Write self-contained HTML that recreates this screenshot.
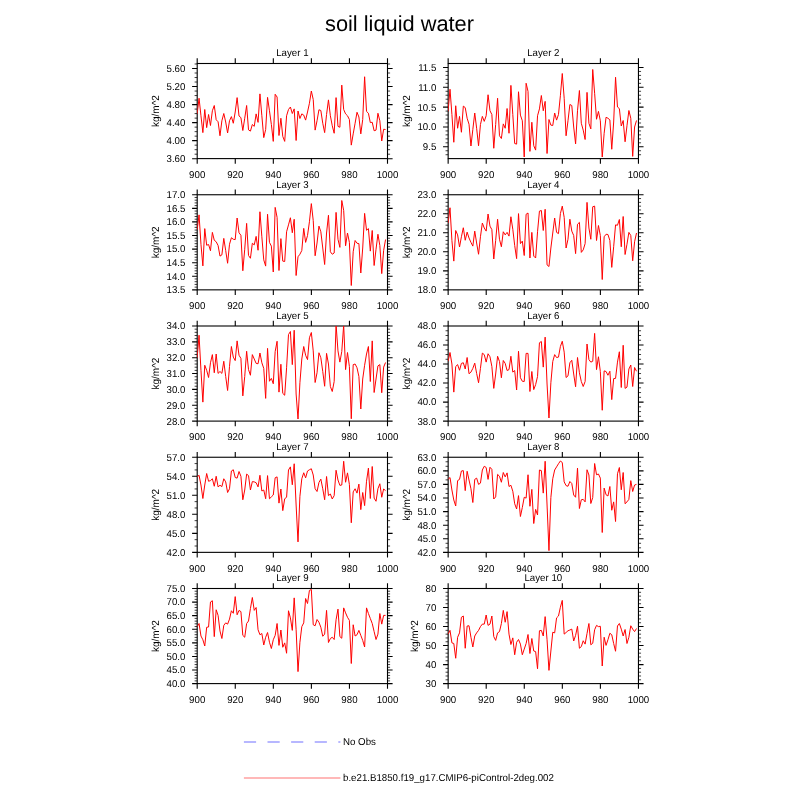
<!DOCTYPE html>
<html><head><meta charset="utf-8"><title>soil liquid water</title>
<style>
html,body{margin:0;padding:0;background:#fff}
body{width:800px;height:800px;overflow:hidden}
svg{display:block}
text{font-family:"Liberation Sans",sans-serif;fill:#000;text-rendering:geometricPrecision}
.t{font-size:9.3px}
.frame{fill:none;stroke:#000;stroke-width:1.1}
.tk{stroke:#000;stroke-width:1.1;fill:none}
.mtk{stroke:#000;stroke-width:.75;fill:none}
.ln{fill:none;stroke:#ff0000;stroke-width:1;stroke-linejoin:round;stroke-linecap:butt}
</style></head><body>
<svg width="800" height="800" viewBox="0 0 800 800">
<rect width="800" height="800" fill="#fff"/>
<text x="399.5" y="31.2" text-anchor="middle" style="font-size:21.8px">soil liquid water</text>

<g>
<text transform="translate(292.35 56.3) scale(0.97 1)" text-anchor="middle" style="font-size:10.0px">Layer 1</text>
<rect class="frame" x="197.2" y="63.5" width="190.3" height="95.1"/>
<path class="tk" d="M197.2 158.6v5.2M197.2 63.5v-5.2M235.26 158.6v5.2M235.26 63.5v-5.2M273.32 158.6v5.2M273.32 63.5v-5.2M311.38 158.6v5.2M311.38 63.5v-5.2M349.44 158.6v5.2M349.44 63.5v-5.2M387.5 158.6v5.2M387.5 63.5v-5.2M197.2 68.5h-5.1M387.5 68.5h5.1M197.2 86.54h-5.1M387.5 86.54h5.1M197.2 104.58h-5.1M387.5 104.58h5.1M197.2 122.62h-5.1M387.5 122.62h5.1M197.2 140.66h-5.1M387.5 140.66h5.1M197.2 158.7h-5.1M387.5 158.7h5.1"/>
<path class="mtk" d="M197.2 73.01h-2.6M387.5 73.01h2.6M197.2 77.52h-2.6M387.5 77.52h2.6M197.2 82.03h-2.6M387.5 82.03h2.6M197.2 91.05h-2.6M387.5 91.05h2.6M197.2 95.56h-2.6M387.5 95.56h2.6M197.2 100.07h-2.6M387.5 100.07h2.6M197.2 109.09h-2.6M387.5 109.09h2.6M197.2 113.6h-2.6M387.5 113.6h2.6M197.2 118.11h-2.6M387.5 118.11h2.6M197.2 127.13h-2.6M387.5 127.13h2.6M197.2 131.64h-2.6M387.5 131.64h2.6M197.2 136.15h-2.6M387.5 136.15h2.6M197.2 145.17h-2.6M387.5 145.17h2.6M197.2 149.68h-2.6M387.5 149.68h2.6M197.2 154.19h-2.6M387.5 154.19h2.6M197.2 63.99h-2.6M387.5 63.99h2.6"/>
<text transform="translate(197.2 177.9) scale(0.97 1)" text-anchor="middle" style="font-size:10.0px">900</text>
<text transform="translate(235.26 177.9) scale(0.97 1)" text-anchor="middle" style="font-size:10.0px">920</text>
<text transform="translate(273.32 177.9) scale(0.97 1)" text-anchor="middle" style="font-size:10.0px">940</text>
<text transform="translate(311.38 177.9) scale(0.97 1)" text-anchor="middle" style="font-size:10.0px">960</text>
<text transform="translate(349.44 177.9) scale(0.97 1)" text-anchor="middle" style="font-size:10.0px">980</text>
<text transform="translate(387.5 177.9) scale(0.97 1)" text-anchor="middle" style="font-size:10.0px">1000</text>
<text transform="translate(185.4 71.9) scale(0.97 1)" text-anchor="end" style="font-size:10.0px">5.60</text>
<text transform="translate(185.4 89.94) scale(0.97 1)" text-anchor="end" style="font-size:10.0px">5.20</text>
<text transform="translate(185.4 107.98) scale(0.97 1)" text-anchor="end" style="font-size:10.0px">4.80</text>
<text transform="translate(185.4 126.02) scale(0.97 1)" text-anchor="end" style="font-size:10.0px">4.40</text>
<text transform="translate(185.4 144.06) scale(0.97 1)" text-anchor="end" style="font-size:10.0px">4.00</text>
<text transform="translate(185.4 162.1) scale(0.97 1)" text-anchor="end" style="font-size:10.0px">3.60</text>
<text transform="translate(158.6 111.05) rotate(-90) scale(0.97 1)" text-anchor="middle" style="font-size:10.3px">kg/m^2</text>
<clipPath id="c0"><rect x="197.2" y="63.5" width="190.3" height="95.1"/></clipPath>
<path class="ln" clip-path="url(#c0)" d="M197.15 113.88L199.05 98.25L200.96 115.75L202.86 132.62L204.76 109.5L206.66 127.62L208.57 114.5L210.47 125.5L212.37 110.75L214.28 105.5L216.18 119.75L218.08 121.75L219.99 135.75L221.89 120.75L223.79 113.5L225.69 122L227.6 133L229.5 120.75L231.4 116.62L233.31 123.25L235.21 112L237.11 97.62L239.02 116L240.92 117.62L242.82 130.5L244.72 118.25L246.63 105.5L248.53 129.88L250.43 131.12L252.34 124.5L254.24 126.38L256.14 113.88L258.05 122.38L259.95 93.88L261.85 115.75L263.75 137.62L265.66 129.5L267.56 97.38L269.46 110.75L271.37 124.5L273.27 141.38L275.17 94.25L277.08 97L278.98 135.5L280.88 118.25L282.78 136.38L284.69 141.38L286.59 115.75L288.49 109.5L290.4 107L292.3 113.5L294.2 108.88L296.11 140.5L298.01 111L299.91 118.5L301.81 113.88L303.72 115.12L305.62 120.12L307.52 112L309.43 103.25L311.33 91L313.23 99.5L315.14 130.12L317.04 120.75L318.94 109.75L320.84 110.5L322.75 123.25L324.65 132.62L326.55 114.5L328.46 99.88L330.36 115.75L332.26 125.75L334.17 133.25L336.07 97.62L337.97 126.38L339.88 127.25L341.78 85.12L343.68 109.5L345.58 113.88L347.49 115.75L349.39 119.5L351.29 145.12L353.2 133.88L355.1 123.25L357 112.25L358.9 117L360.81 133.88L362.71 119.5L364.61 76.75L366.52 111.38L368.42 113.25L370.32 122.62L372.23 122.25L374.13 130.75L376.03 130.12L377.93 113.25L379.84 120.75L381.74 141L383.64 129.25L385.55 129.5"/>
</g>
<g>
<text transform="translate(543.3 56.3) scale(0.97 1)" text-anchor="middle" style="font-size:10.0px">Layer 2</text>
<rect class="frame" x="448.15" y="63.5" width="190.3" height="95.1"/>
<path class="tk" d="M448.15 158.6v5.2M448.15 63.5v-5.2M486.21 158.6v5.2M486.21 63.5v-5.2M524.27 158.6v5.2M524.27 63.5v-5.2M562.33 158.6v5.2M562.33 63.5v-5.2M600.39 158.6v5.2M600.39 63.5v-5.2M638.45 158.6v5.2M638.45 63.5v-5.2M448.15 67.47h-5.1M638.45 67.47h5.1M448.15 87.3h-5.1M638.45 87.3h5.1M448.15 107.13h-5.1M638.45 107.13h5.1M448.15 126.96h-5.1M638.45 126.96h5.1M448.15 146.79h-5.1M638.45 146.79h5.1"/>
<path class="mtk" d="M448.15 71.44h-2.6M638.45 71.44h2.6M448.15 75.4h-2.6M638.45 75.4h2.6M448.15 79.37h-2.6M638.45 79.37h2.6M448.15 83.33h-2.6M638.45 83.33h2.6M448.15 91.27h-2.6M638.45 91.27h2.6M448.15 95.23h-2.6M638.45 95.23h2.6M448.15 99.2h-2.6M638.45 99.2h2.6M448.15 103.16h-2.6M638.45 103.16h2.6M448.15 111.1h-2.6M638.45 111.1h2.6M448.15 115.06h-2.6M638.45 115.06h2.6M448.15 119.03h-2.6M638.45 119.03h2.6M448.15 122.99h-2.6M638.45 122.99h2.6M448.15 130.93h-2.6M638.45 130.93h2.6M448.15 134.89h-2.6M638.45 134.89h2.6M448.15 138.86h-2.6M638.45 138.86h2.6M448.15 142.82h-2.6M638.45 142.82h2.6M448.15 150.76h-2.6M638.45 150.76h2.6M448.15 154.72h-2.6M638.45 154.72h2.6"/>
<text transform="translate(448.15 177.9) scale(0.97 1)" text-anchor="middle" style="font-size:10.0px">900</text>
<text transform="translate(486.21 177.9) scale(0.97 1)" text-anchor="middle" style="font-size:10.0px">920</text>
<text transform="translate(524.27 177.9) scale(0.97 1)" text-anchor="middle" style="font-size:10.0px">940</text>
<text transform="translate(562.33 177.9) scale(0.97 1)" text-anchor="middle" style="font-size:10.0px">960</text>
<text transform="translate(600.39 177.9) scale(0.97 1)" text-anchor="middle" style="font-size:10.0px">980</text>
<text transform="translate(638.45 177.9) scale(0.97 1)" text-anchor="middle" style="font-size:10.0px">1000</text>
<text transform="translate(436.35 70.87) scale(0.97 1)" text-anchor="end" style="font-size:10.0px">11.5</text>
<text transform="translate(436.35 90.7) scale(0.97 1)" text-anchor="end" style="font-size:10.0px">11.0</text>
<text transform="translate(436.35 110.53) scale(0.97 1)" text-anchor="end" style="font-size:10.0px">10.5</text>
<text transform="translate(436.35 130.36) scale(0.97 1)" text-anchor="end" style="font-size:10.0px">10.0</text>
<text transform="translate(436.35 150.19) scale(0.97 1)" text-anchor="end" style="font-size:10.0px">9.5</text>
<text transform="translate(409.55 111.05) rotate(-90) scale(0.97 1)" text-anchor="middle" style="font-size:10.3px">kg/m^2</text>
<clipPath id="c1"><rect x="448.15" y="63.5" width="190.3" height="95.1"/></clipPath>
<path class="ln" clip-path="url(#c1)" d="M448.1 111.38L450 89.25L451.91 114.5L453.81 142.25L455.71 105.75L457.61 128.25L459.52 116.38L461.42 132.25L463.32 106.12L465.23 107.62L467.13 118.25L469.03 124.25L470.94 146L472.84 129.5L474.74 113L476.64 128.25L478.55 145.75L480.45 124.5L482.35 116.38L484.26 121.38L486.16 115.75L488.06 94.75L489.97 110.75L491.87 114.5L493.77 148.25L495.67 124.5L497.58 98.25L499.48 135.75L501.38 138.5L503.29 123.88L505.19 128.25L507.09 108.5L509 133.25L510.9 85.38L512.8 114.5L514.7 143.5L516.61 144.12L518.51 91.75L520.41 115.12L522.32 120.75L524.22 157L526.12 83.25L528.03 91.38L529.93 151.38L531.83 122.25L533.74 145.75L535.64 150.12L537.54 115.75L539.44 108.88L541.35 95.5L543.25 110.75L545.15 101.38L547.06 153.5L548.96 119.5L550.86 125.12L552.76 125.5L554.67 113L556.57 120.12L558.47 114.5L560.38 95.75L562.28 73.5L564.18 98.25L566.09 135.75L567.99 120.75L569.89 104.5L571.79 105.5L573.7 127L575.6 143.88L577.5 110.75L579.41 90.5L581.31 123.25L583.21 130.12L585.12 139.5L587.02 92.38L588.92 123.25L590.82 128.88L592.73 69.5L594.63 93.25L596.53 119.25L598.44 111.38L600.34 120.75L602.24 157L604.15 133.25L606.05 117.25L607.95 118.25L609.86 119.88L611.76 149.25L613.66 122L615.56 77.25L617.47 107L619.37 108.62L621.27 126L623.18 120.5L625.08 141.75L626.98 125.75L628.88 110.5L630.79 118.25L632.69 156.38L634.59 127L636.5 120.5"/>
</g>
<g>
<text transform="translate(292.35 187.55) scale(0.97 1)" text-anchor="middle" style="font-size:10.0px">Layer 3</text>
<rect class="frame" x="197.2" y="194.75" width="190.3" height="95.1"/>
<path class="tk" d="M197.2 289.85v5.2M197.2 194.75v-5.2M235.26 289.85v5.2M235.26 194.75v-5.2M273.32 289.85v5.2M273.32 194.75v-5.2M311.38 289.85v5.2M311.38 194.75v-5.2M349.44 289.85v5.2M349.44 194.75v-5.2M387.5 289.85v5.2M387.5 194.75v-5.2M197.2 194.75h-5.1M387.5 194.75h5.1M197.2 208.34h-5.1M387.5 208.34h5.1M197.2 221.92h-5.1M387.5 221.92h5.1M197.2 235.51h-5.1M387.5 235.51h5.1M197.2 249.09h-5.1M387.5 249.09h5.1M197.2 262.68h-5.1M387.5 262.68h5.1M197.2 276.26h-5.1M387.5 276.26h5.1M197.2 289.85h-5.1M387.5 289.85h5.1"/>
<path class="mtk" d="M197.2 197.47h-2.6M387.5 197.47h2.6M197.2 200.18h-2.6M387.5 200.18h2.6M197.2 202.9h-2.6M387.5 202.9h2.6M197.2 205.62h-2.6M387.5 205.62h2.6M197.2 211.05h-2.6M387.5 211.05h2.6M197.2 213.77h-2.6M387.5 213.77h2.6M197.2 216.49h-2.6M387.5 216.49h2.6M197.2 219.2h-2.6M387.5 219.2h2.6M197.2 224.64h-2.6M387.5 224.64h2.6M197.2 227.36h-2.6M387.5 227.36h2.6M197.2 230.07h-2.6M387.5 230.07h2.6M197.2 232.79h-2.6M387.5 232.79h2.6M197.2 238.22h-2.6M387.5 238.22h2.6M197.2 240.94h-2.6M387.5 240.94h2.6M197.2 243.66h-2.6M387.5 243.66h2.6M197.2 246.38h-2.6M387.5 246.38h2.6M197.2 251.81h-2.6M387.5 251.81h2.6M197.2 254.53h-2.6M387.5 254.53h2.6M197.2 257.24h-2.6M387.5 257.24h2.6M197.2 259.96h-2.6M387.5 259.96h2.6M197.2 265.4h-2.6M387.5 265.4h2.6M197.2 268.11h-2.6M387.5 268.11h2.6M197.2 270.83h-2.6M387.5 270.83h2.6M197.2 273.55h-2.6M387.5 273.55h2.6M197.2 278.98h-2.6M387.5 278.98h2.6M197.2 281.7h-2.6M387.5 281.7h2.6M197.2 284.42h-2.6M387.5 284.42h2.6M197.2 287.13h-2.6M387.5 287.13h2.6"/>
<text transform="translate(197.2 309.15) scale(0.97 1)" text-anchor="middle" style="font-size:10.0px">900</text>
<text transform="translate(235.26 309.15) scale(0.97 1)" text-anchor="middle" style="font-size:10.0px">920</text>
<text transform="translate(273.32 309.15) scale(0.97 1)" text-anchor="middle" style="font-size:10.0px">940</text>
<text transform="translate(311.38 309.15) scale(0.97 1)" text-anchor="middle" style="font-size:10.0px">960</text>
<text transform="translate(349.44 309.15) scale(0.97 1)" text-anchor="middle" style="font-size:10.0px">980</text>
<text transform="translate(387.5 309.15) scale(0.97 1)" text-anchor="middle" style="font-size:10.0px">1000</text>
<text transform="translate(185.4 198.15) scale(0.97 1)" text-anchor="end" style="font-size:10.0px">17.0</text>
<text transform="translate(185.4 211.74) scale(0.97 1)" text-anchor="end" style="font-size:10.0px">16.5</text>
<text transform="translate(185.4 225.32) scale(0.97 1)" text-anchor="end" style="font-size:10.0px">16.0</text>
<text transform="translate(185.4 238.91) scale(0.97 1)" text-anchor="end" style="font-size:10.0px">15.5</text>
<text transform="translate(185.4 252.49) scale(0.97 1)" text-anchor="end" style="font-size:10.0px">15.0</text>
<text transform="translate(185.4 266.08) scale(0.97 1)" text-anchor="end" style="font-size:10.0px">14.5</text>
<text transform="translate(185.4 279.66) scale(0.97 1)" text-anchor="end" style="font-size:10.0px">14.0</text>
<text transform="translate(185.4 293.25) scale(0.97 1)" text-anchor="end" style="font-size:10.0px">13.5</text>
<text transform="translate(158.6 242.3) rotate(-90) scale(0.97 1)" text-anchor="middle" style="font-size:10.3px">kg/m^2</text>
<clipPath id="c2"><rect x="197.2" y="194.75" width="190.3" height="95.1"/></clipPath>
<path class="ln" clip-path="url(#c2)" d="M197.15 229.88L199.05 214.88L200.96 244.25L202.86 265.88L204.76 228.62L206.66 245.25L208.57 244.5L210.47 250.75L212.37 232.38L214.28 240.25L216.18 241.75L218.08 245.5L219.99 256.12L221.89 254.88L223.79 238.38L225.69 250.5L227.6 263.25L229.5 244.25L231.4 237.75L233.31 239.25L235.21 239.62L237.11 218L239.02 232.75L240.92 235.25L242.82 270.75L244.72 249.25L246.63 223.38L248.53 255.5L250.43 258.25L252.34 243.25L254.24 244.88L256.14 236.38L258.05 250.25L259.95 211.75L261.85 236.75L263.75 259.88L265.66 266.12L267.56 214.25L269.46 242.38L271.37 246.12L273.27 272L275.17 207.38L277.08 217.38L278.98 270.5L280.88 238.62L282.78 261.12L284.69 261.5L286.59 231.75L288.49 224.88L290.4 217.75L292.3 232.75L294.2 219.25L296.11 275.5L298.01 256.75L299.91 254.25L301.81 250.5L303.72 228.38L305.62 242.38L307.52 235.5L309.43 221.75L311.33 203.62L313.23 220.5L315.14 255.75L317.04 243L318.94 226.12L320.84 231.75L322.75 248L324.65 264.5L326.55 233L328.46 215.25L330.36 251.75L332.26 254.25L334.17 253L336.07 212.38L337.97 239.25L339.88 247.38L341.78 200.5L343.68 210.5L345.58 245.75L347.49 233L349.39 242.38L351.29 285.5L353.2 251.75L355.1 240.5L357 243.25L358.9 243.62L360.81 273L362.71 248L364.61 213.38L366.52 230.25L368.42 228.62L370.32 251.12L372.23 230.5L374.13 265.5L376.03 249.25L377.93 234.25L379.84 245.5L381.74 273.62L383.64 250.5L385.55 239.5"/>
</g>
<g>
<text transform="translate(543.3 187.55) scale(0.97 1)" text-anchor="middle" style="font-size:10.0px">Layer 4</text>
<rect class="frame" x="448.15" y="194.75" width="190.3" height="95.1"/>
<path class="tk" d="M448.15 289.85v5.2M448.15 194.75v-5.2M486.21 289.85v5.2M486.21 194.75v-5.2M524.27 289.85v5.2M524.27 194.75v-5.2M562.33 289.85v5.2M562.33 194.75v-5.2M600.39 289.85v5.2M600.39 194.75v-5.2M638.45 289.85v5.2M638.45 194.75v-5.2M448.15 194.75h-5.1M638.45 194.75h5.1M448.15 213.77h-5.1M638.45 213.77h5.1M448.15 232.79h-5.1M638.45 232.79h5.1M448.15 251.81h-5.1M638.45 251.81h5.1M448.15 270.83h-5.1M638.45 270.83h5.1M448.15 289.85h-5.1M638.45 289.85h5.1"/>
<path class="mtk" d="M448.15 198.55h-2.6M638.45 198.55h2.6M448.15 202.36h-2.6M638.45 202.36h2.6M448.15 206.16h-2.6M638.45 206.16h2.6M448.15 209.97h-2.6M638.45 209.97h2.6M448.15 217.57h-2.6M638.45 217.57h2.6M448.15 221.38h-2.6M638.45 221.38h2.6M448.15 225.18h-2.6M638.45 225.18h2.6M448.15 228.99h-2.6M638.45 228.99h2.6M448.15 236.59h-2.6M638.45 236.59h2.6M448.15 240.4h-2.6M638.45 240.4h2.6M448.15 244.2h-2.6M638.45 244.2h2.6M448.15 248.01h-2.6M638.45 248.01h2.6M448.15 255.61h-2.6M638.45 255.61h2.6M448.15 259.42h-2.6M638.45 259.42h2.6M448.15 263.22h-2.6M638.45 263.22h2.6M448.15 267.03h-2.6M638.45 267.03h2.6M448.15 274.63h-2.6M638.45 274.63h2.6M448.15 278.44h-2.6M638.45 278.44h2.6M448.15 282.24h-2.6M638.45 282.24h2.6M448.15 286.05h-2.6M638.45 286.05h2.6"/>
<text transform="translate(448.15 309.15) scale(0.97 1)" text-anchor="middle" style="font-size:10.0px">900</text>
<text transform="translate(486.21 309.15) scale(0.97 1)" text-anchor="middle" style="font-size:10.0px">920</text>
<text transform="translate(524.27 309.15) scale(0.97 1)" text-anchor="middle" style="font-size:10.0px">940</text>
<text transform="translate(562.33 309.15) scale(0.97 1)" text-anchor="middle" style="font-size:10.0px">960</text>
<text transform="translate(600.39 309.15) scale(0.97 1)" text-anchor="middle" style="font-size:10.0px">980</text>
<text transform="translate(638.45 309.15) scale(0.97 1)" text-anchor="middle" style="font-size:10.0px">1000</text>
<text transform="translate(436.35 198.15) scale(0.97 1)" text-anchor="end" style="font-size:10.0px">23.0</text>
<text transform="translate(436.35 217.17) scale(0.97 1)" text-anchor="end" style="font-size:10.0px">22.0</text>
<text transform="translate(436.35 236.19) scale(0.97 1)" text-anchor="end" style="font-size:10.0px">21.0</text>
<text transform="translate(436.35 255.21) scale(0.97 1)" text-anchor="end" style="font-size:10.0px">20.0</text>
<text transform="translate(436.35 274.23) scale(0.97 1)" text-anchor="end" style="font-size:10.0px">19.0</text>
<text transform="translate(436.35 293.25) scale(0.97 1)" text-anchor="end" style="font-size:10.0px">18.0</text>
<text transform="translate(409.55 242.3) rotate(-90) scale(0.97 1)" text-anchor="middle" style="font-size:10.3px">kg/m^2</text>
<clipPath id="c3"><rect x="448.15" y="194.75" width="190.3" height="95.1"/></clipPath>
<path class="ln" clip-path="url(#c3)" d="M448.1 223L450 207.75L451.91 240.5L453.81 261.12L455.71 230.5L457.61 234.88L459.52 247L461.42 236.75L463.32 227.75L465.23 240.25L467.13 232.12L469.03 238L470.94 242.38L472.84 246.12L474.74 231.12L476.64 243L478.55 254.25L480.45 236.75L482.35 223L484.26 228L486.16 231.12L488.06 214L489.97 226.12L491.87 229.62L493.77 259L495.67 240.5L497.58 219.25L499.48 239.25L501.38 246.75L503.29 231.75L505.19 234.88L507.09 232.38L509 236.12L510.9 216.75L512.8 229.25L514.7 245.5L516.61 258.62L518.51 213.62L520.41 243.62L522.32 241.12L524.22 255.5L526.12 214.25L528.03 213L529.93 258L531.83 232.38L533.74 256.12L535.64 258L537.54 231.75L539.44 211.12L541.35 210.5L543.25 230.5L545.15 209.25L547.06 264.88L548.96 266.5L550.86 248L552.76 233L554.67 218L556.57 232.38L558.47 233.62L560.38 213.62L562.28 206.12L564.18 217.38L566.09 248L567.99 239.25L569.89 219.25L571.79 231.12L573.7 235.5L575.6 253.62L577.5 224.25L579.41 222.38L581.31 252.38L583.21 249.88L585.12 243.62L587.02 202.38L588.92 228L590.82 239.25L592.73 206.75L594.63 206.12L596.53 240.5L598.44 225.5L600.34 235.5L602.24 279.5L604.15 236.75L606.05 234.25L607.95 234.5L609.86 240.5L611.76 267.38L613.66 246.75L615.56 224.88L617.47 225.25L619.37 219.5L621.27 246.75L623.18 216.5L625.08 254.5L626.98 244.25L628.88 232.38L630.79 235.5L632.69 260.75L634.59 241.75L636.5 233"/>
</g>
<g>
<text transform="translate(292.35 318.8) scale(0.97 1)" text-anchor="middle" style="font-size:10.0px">Layer 5</text>
<rect class="frame" x="197.2" y="326" width="190.3" height="95.1"/>
<path class="tk" d="M197.2 421.1v5.2M197.2 326v-5.2M235.26 421.1v5.2M235.26 326v-5.2M273.32 421.1v5.2M273.32 326v-5.2M311.38 421.1v5.2M311.38 326v-5.2M349.44 421.1v5.2M349.44 326v-5.2M387.5 421.1v5.2M387.5 326v-5.2M197.2 326h-5.1M387.5 326h5.1M197.2 341.85h-5.1M387.5 341.85h5.1M197.2 357.7h-5.1M387.5 357.7h5.1M197.2 373.55h-5.1M387.5 373.55h5.1M197.2 389.4h-5.1M387.5 389.4h5.1M197.2 405.25h-5.1M387.5 405.25h5.1M197.2 421.1h-5.1M387.5 421.1h5.1"/>
<path class="mtk" d="M197.2 329.17h-2.6M387.5 329.17h2.6M197.2 332.34h-2.6M387.5 332.34h2.6M197.2 335.51h-2.6M387.5 335.51h2.6M197.2 338.68h-2.6M387.5 338.68h2.6M197.2 345.02h-2.6M387.5 345.02h2.6M197.2 348.19h-2.6M387.5 348.19h2.6M197.2 351.36h-2.6M387.5 351.36h2.6M197.2 354.53h-2.6M387.5 354.53h2.6M197.2 360.87h-2.6M387.5 360.87h2.6M197.2 364.04h-2.6M387.5 364.04h2.6M197.2 367.21h-2.6M387.5 367.21h2.6M197.2 370.38h-2.6M387.5 370.38h2.6M197.2 376.72h-2.6M387.5 376.72h2.6M197.2 379.89h-2.6M387.5 379.89h2.6M197.2 383.06h-2.6M387.5 383.06h2.6M197.2 386.23h-2.6M387.5 386.23h2.6M197.2 392.57h-2.6M387.5 392.57h2.6M197.2 395.74h-2.6M387.5 395.74h2.6M197.2 398.91h-2.6M387.5 398.91h2.6M197.2 402.08h-2.6M387.5 402.08h2.6M197.2 408.42h-2.6M387.5 408.42h2.6M197.2 411.59h-2.6M387.5 411.59h2.6M197.2 414.76h-2.6M387.5 414.76h2.6M197.2 417.93h-2.6M387.5 417.93h2.6"/>
<text transform="translate(197.2 440.4) scale(0.97 1)" text-anchor="middle" style="font-size:10.0px">900</text>
<text transform="translate(235.26 440.4) scale(0.97 1)" text-anchor="middle" style="font-size:10.0px">920</text>
<text transform="translate(273.32 440.4) scale(0.97 1)" text-anchor="middle" style="font-size:10.0px">940</text>
<text transform="translate(311.38 440.4) scale(0.97 1)" text-anchor="middle" style="font-size:10.0px">960</text>
<text transform="translate(349.44 440.4) scale(0.97 1)" text-anchor="middle" style="font-size:10.0px">980</text>
<text transform="translate(387.5 440.4) scale(0.97 1)" text-anchor="middle" style="font-size:10.0px">1000</text>
<text transform="translate(185.4 329.4) scale(0.97 1)" text-anchor="end" style="font-size:10.0px">34.0</text>
<text transform="translate(185.4 345.25) scale(0.97 1)" text-anchor="end" style="font-size:10.0px">33.0</text>
<text transform="translate(185.4 361.1) scale(0.97 1)" text-anchor="end" style="font-size:10.0px">32.0</text>
<text transform="translate(185.4 376.95) scale(0.97 1)" text-anchor="end" style="font-size:10.0px">31.0</text>
<text transform="translate(185.4 392.8) scale(0.97 1)" text-anchor="end" style="font-size:10.0px">30.0</text>
<text transform="translate(185.4 408.65) scale(0.97 1)" text-anchor="end" style="font-size:10.0px">29.0</text>
<text transform="translate(185.4 424.5) scale(0.97 1)" text-anchor="end" style="font-size:10.0px">28.0</text>
<text transform="translate(158.6 373.55) rotate(-90) scale(0.97 1)" text-anchor="middle" style="font-size:10.3px">kg/m^2</text>
<clipPath id="c4"><rect x="197.2" y="326" width="190.3" height="95.1"/></clipPath>
<path class="ln" clip-path="url(#c4)" d="M197.15 357.75L199.05 335.25L200.96 370.25L202.86 402.12L204.76 365.25L206.66 370.25L208.57 377.5L210.47 362.75L212.37 354.62L214.28 372.75L216.18 354L218.08 373.38L219.99 371.5L221.89 373.38L223.79 361.25L225.69 376.5L227.6 390.5L229.5 366.5L231.4 346.5L233.31 357.12L235.21 360.62L237.11 340.88L239.02 355.25L240.92 358.38L242.82 395.88L244.72 376.5L246.63 351.25L248.53 369.62L250.43 375.25L252.34 354.62L254.24 359L256.14 363.38L258.05 363.75L259.95 353L261.85 362.75L263.75 368.38L265.66 398.38L267.56 348.38L269.46 381.25L271.37 378.38L273.27 383.75L275.17 351.5L277.08 341.25L278.98 392.12L280.88 364.25L282.78 393.38L284.69 395.25L286.59 367.75L288.49 334.62L290.4 331.5L292.3 364.62L294.2 330.25L296.11 394L298.01 419L299.91 382.75L301.81 359L303.72 346.5L305.62 355.25L307.52 359.62L309.43 337.75L311.33 332.5L313.23 350.88L315.14 382.5L317.04 372.75L318.94 352.75L320.84 357.75L322.75 371.5L324.65 386.25L326.55 353.38L328.46 364L330.36 386.5L332.26 391.5L334.17 381.5L336.07 324.62L337.97 350.88L339.88 362.12L341.78 351.5L343.68 325L345.58 369.62L347.49 352.5L349.39 366.5L351.29 418.75L353.2 364.62L355.1 364L357 367.75L358.9 376.5L360.81 409L362.71 379L364.61 365.25L366.52 354L368.42 346.5L370.32 381.5L372.23 340.88L374.13 392.5L376.03 379L377.93 365.88L379.84 364.62L381.74 392.75L383.64 367.12L385.55 362.5"/>
</g>
<g>
<text transform="translate(543.3 318.8) scale(0.97 1)" text-anchor="middle" style="font-size:10.0px">Layer 6</text>
<rect class="frame" x="448.15" y="326" width="190.3" height="95.1"/>
<path class="tk" d="M448.15 421.1v5.2M448.15 326v-5.2M486.21 421.1v5.2M486.21 326v-5.2M524.27 421.1v5.2M524.27 326v-5.2M562.33 421.1v5.2M562.33 326v-5.2M600.39 421.1v5.2M600.39 326v-5.2M638.45 421.1v5.2M638.45 326v-5.2M448.15 326h-5.1M638.45 326h5.1M448.15 345.02h-5.1M638.45 345.02h5.1M448.15 364.04h-5.1M638.45 364.04h5.1M448.15 383.06h-5.1M638.45 383.06h5.1M448.15 402.08h-5.1M638.45 402.08h5.1M448.15 421.1h-5.1M638.45 421.1h5.1"/>
<path class="mtk" d="M448.15 330.75h-2.6M638.45 330.75h2.6M448.15 335.51h-2.6M638.45 335.51h2.6M448.15 340.26h-2.6M638.45 340.26h2.6M448.15 349.77h-2.6M638.45 349.77h2.6M448.15 354.53h-2.6M638.45 354.53h2.6M448.15 359.28h-2.6M638.45 359.28h2.6M448.15 368.8h-2.6M638.45 368.8h2.6M448.15 373.55h-2.6M638.45 373.55h2.6M448.15 378.31h-2.6M638.45 378.31h2.6M448.15 387.81h-2.6M638.45 387.81h2.6M448.15 392.57h-2.6M638.45 392.57h2.6M448.15 397.32h-2.6M638.45 397.32h2.6M448.15 406.83h-2.6M638.45 406.83h2.6M448.15 411.59h-2.6M638.45 411.59h2.6M448.15 416.34h-2.6M638.45 416.34h2.6"/>
<text transform="translate(448.15 440.4) scale(0.97 1)" text-anchor="middle" style="font-size:10.0px">900</text>
<text transform="translate(486.21 440.4) scale(0.97 1)" text-anchor="middle" style="font-size:10.0px">920</text>
<text transform="translate(524.27 440.4) scale(0.97 1)" text-anchor="middle" style="font-size:10.0px">940</text>
<text transform="translate(562.33 440.4) scale(0.97 1)" text-anchor="middle" style="font-size:10.0px">960</text>
<text transform="translate(600.39 440.4) scale(0.97 1)" text-anchor="middle" style="font-size:10.0px">980</text>
<text transform="translate(638.45 440.4) scale(0.97 1)" text-anchor="middle" style="font-size:10.0px">1000</text>
<text transform="translate(436.35 329.4) scale(0.97 1)" text-anchor="end" style="font-size:10.0px">48.0</text>
<text transform="translate(436.35 348.42) scale(0.97 1)" text-anchor="end" style="font-size:10.0px">46.0</text>
<text transform="translate(436.35 367.44) scale(0.97 1)" text-anchor="end" style="font-size:10.0px">44.0</text>
<text transform="translate(436.35 386.46) scale(0.97 1)" text-anchor="end" style="font-size:10.0px">42.0</text>
<text transform="translate(436.35 405.48) scale(0.97 1)" text-anchor="end" style="font-size:10.0px">40.0</text>
<text transform="translate(436.35 424.5) scale(0.97 1)" text-anchor="end" style="font-size:10.0px">38.0</text>
<text transform="translate(409.55 373.55) rotate(-90) scale(0.97 1)" text-anchor="middle" style="font-size:10.3px">kg/m^2</text>
<clipPath id="c5"><rect x="448.15" y="326" width="190.3" height="95.1"/></clipPath>
<path class="ln" clip-path="url(#c5)" d="M448.1 361.25L450 352.5L451.91 364L453.81 392.12L455.71 366.5L457.61 364.62L459.52 370.25L461.42 363.38L463.32 362.75L465.23 369L467.13 357.5L469.03 373.75L470.94 372.12L472.84 368.38L474.74 363.12L476.64 373.38L478.55 382.75L480.45 368.38L482.35 353.12L484.26 354.62L486.16 362.12L488.06 353.75L489.97 356.75L491.87 366.5L493.77 388.38L495.67 374L497.58 356.25L499.48 361.5L501.38 377.75L503.29 360.5L505.19 363.38L507.09 370.5L509 369.62L510.9 356.25L512.8 372.12L514.7 370.5L516.61 390L518.51 351.25L520.41 377.75L522.32 381.25L524.22 381.5L526.12 353.38L528.03 353.38L529.93 391.5L531.83 371.5L533.74 389.62L535.64 384.62L537.54 376.5L539.44 342.75L541.35 341.5L543.25 367.12L545.15 337.12L547.06 384L548.96 418L550.86 382.75L552.76 361.5L554.67 354.62L556.57 357.5L558.47 357.12L560.38 346.5L562.28 341.25L564.18 352.12L566.09 377.5L567.99 375.88L569.89 362.75L571.79 360.25L573.7 374L575.6 386.75L577.5 357.5L579.41 372.75L581.31 381.5L583.21 386.5L585.12 381.5L587.02 344L588.92 359.62L590.82 362.12L592.73 361.25L594.63 333.38L596.53 369.62L598.44 356.75L600.34 371.5L602.24 410.25L604.15 370.88L606.05 371.5L607.95 375.25L609.86 371.25L611.76 399.62L613.66 378.62L615.56 378.38L617.47 362.12L619.37 351.75L621.27 387.5L623.18 345.25L625.08 388.38L626.98 387.12L628.88 369L630.79 365L632.69 386.5L634.59 367.5L636.5 371.25"/>
</g>
<g>
<text transform="translate(292.35 450.05) scale(0.97 1)" text-anchor="middle" style="font-size:10.0px">Layer 7</text>
<rect class="frame" x="197.2" y="457.25" width="190.3" height="95.1"/>
<path class="tk" d="M197.2 552.35v5.2M197.2 457.25v-5.2M235.26 552.35v5.2M235.26 457.25v-5.2M273.32 552.35v5.2M273.32 457.25v-5.2M311.38 552.35v5.2M311.38 457.25v-5.2M349.44 552.35v5.2M349.44 457.25v-5.2M387.5 552.35v5.2M387.5 457.25v-5.2M197.2 457.25h-5.1M387.5 457.25h5.1M197.2 476.27h-5.1M387.5 476.27h5.1M197.2 495.29h-5.1M387.5 495.29h5.1M197.2 514.31h-5.1M387.5 514.31h5.1M197.2 533.33h-5.1M387.5 533.33h5.1M197.2 552.35h-5.1M387.5 552.35h5.1"/>
<path class="mtk" d="M197.2 463.59h-2.6M387.5 463.59h2.6M197.2 469.93h-2.6M387.5 469.93h2.6M197.2 482.61h-2.6M387.5 482.61h2.6M197.2 488.95h-2.6M387.5 488.95h2.6M197.2 501.63h-2.6M387.5 501.63h2.6M197.2 507.97h-2.6M387.5 507.97h2.6M197.2 520.65h-2.6M387.5 520.65h2.6M197.2 526.99h-2.6M387.5 526.99h2.6M197.2 539.67h-2.6M387.5 539.67h2.6M197.2 546.01h-2.6M387.5 546.01h2.6"/>
<text transform="translate(197.2 571.65) scale(0.97 1)" text-anchor="middle" style="font-size:10.0px">900</text>
<text transform="translate(235.26 571.65) scale(0.97 1)" text-anchor="middle" style="font-size:10.0px">920</text>
<text transform="translate(273.32 571.65) scale(0.97 1)" text-anchor="middle" style="font-size:10.0px">940</text>
<text transform="translate(311.38 571.65) scale(0.97 1)" text-anchor="middle" style="font-size:10.0px">960</text>
<text transform="translate(349.44 571.65) scale(0.97 1)" text-anchor="middle" style="font-size:10.0px">980</text>
<text transform="translate(387.5 571.65) scale(0.97 1)" text-anchor="middle" style="font-size:10.0px">1000</text>
<text transform="translate(185.4 460.65) scale(0.97 1)" text-anchor="end" style="font-size:10.0px">57.0</text>
<text transform="translate(185.4 479.67) scale(0.97 1)" text-anchor="end" style="font-size:10.0px">54.0</text>
<text transform="translate(185.4 498.69) scale(0.97 1)" text-anchor="end" style="font-size:10.0px">51.0</text>
<text transform="translate(185.4 517.71) scale(0.97 1)" text-anchor="end" style="font-size:10.0px">48.0</text>
<text transform="translate(185.4 536.73) scale(0.97 1)" text-anchor="end" style="font-size:10.0px">45.0</text>
<text transform="translate(185.4 555.75) scale(0.97 1)" text-anchor="end" style="font-size:10.0px">42.0</text>
<text transform="translate(158.6 504.8) rotate(-90) scale(0.97 1)" text-anchor="middle" style="font-size:10.3px">kg/m^2</text>
<clipPath id="c6"><rect x="197.2" y="457.25" width="190.3" height="95.1"/></clipPath>
<path class="ln" clip-path="url(#c6)" d="M197.15 476.88L199.05 475.25L200.96 485L202.86 498.5L204.76 485L206.66 473.5L208.57 481.25L210.47 480.62L212.37 478.75L214.28 486.25L216.18 476.25L218.08 486.88L219.99 485.25L221.89 486.62L223.79 478.75L225.69 481.88L227.6 492.5L229.5 488.75L231.4 471L233.31 469.75L235.21 477.5L237.11 478.12L239.02 471.5L240.92 476.25L242.82 499.75L244.72 490L246.63 474.12L248.53 475.62L250.43 490L252.34 481.62L254.24 481.88L256.14 482.75L258.05 486.88L259.95 475.25L261.85 491L263.75 490L265.66 498.75L267.56 475.62L269.46 498.75L271.37 496.88L273.27 495L275.17 477.75L277.08 476.88L278.98 503.12L280.88 489L282.78 510.62L284.69 498.75L286.59 497.25L288.49 470L290.4 466.88L292.3 484.75L294.2 463.75L296.11 505L298.01 541.88L299.91 496.25L301.81 478.75L303.72 472.75L305.62 477.88L307.52 471L309.43 469.75L311.33 468.75L313.23 475L315.14 488.75L317.04 491.5L318.94 482.5L320.84 479.12L322.75 488.75L324.65 499.75L326.55 476.5L328.46 495.62L330.36 494L332.26 499L334.17 495.62L336.07 470.25L337.97 480L339.88 485.38L341.78 485L343.68 461.25L345.58 482.25L347.49 472.88L349.39 484.38L351.29 522.75L353.2 491.88L355.1 488.75L357 493.12L358.9 484.12L360.81 509.62L362.71 492.5L364.61 505.62L366.52 481.25L368.42 468.12L370.32 498.5L372.23 466.5L374.13 498.12L376.03 501.25L377.93 488.75L379.84 483.75L381.74 497.25L383.64 489L385.55 490.62"/>
</g>
<g>
<text transform="translate(543.3 450.05) scale(0.97 1)" text-anchor="middle" style="font-size:10.0px">Layer 8</text>
<rect class="frame" x="448.15" y="457.25" width="190.3" height="95.1"/>
<path class="tk" d="M448.15 552.35v5.2M448.15 457.25v-5.2M486.21 552.35v5.2M486.21 457.25v-5.2M524.27 552.35v5.2M524.27 457.25v-5.2M562.33 552.35v5.2M562.33 457.25v-5.2M600.39 552.35v5.2M600.39 457.25v-5.2M638.45 552.35v5.2M638.45 457.25v-5.2M448.15 457.25h-5.1M638.45 457.25h5.1M448.15 470.84h-5.1M638.45 470.84h5.1M448.15 484.42h-5.1M638.45 484.42h5.1M448.15 498.01h-5.1M638.45 498.01h5.1M448.15 511.59h-5.1M638.45 511.59h5.1M448.15 525.18h-5.1M638.45 525.18h5.1M448.15 538.76h-5.1M638.45 538.76h5.1M448.15 552.35h-5.1M638.45 552.35h5.1"/>
<path class="mtk" d="M448.15 461.78h-2.6M638.45 461.78h2.6M448.15 466.31h-2.6M638.45 466.31h2.6M448.15 475.36h-2.6M638.45 475.36h2.6M448.15 479.89h-2.6M638.45 479.89h2.6M448.15 488.95h-2.6M638.45 488.95h2.6M448.15 493.48h-2.6M638.45 493.48h2.6M448.15 502.54h-2.6M638.45 502.54h2.6M448.15 507.06h-2.6M638.45 507.06h2.6M448.15 516.12h-2.6M638.45 516.12h2.6M448.15 520.65h-2.6M638.45 520.65h2.6M448.15 529.71h-2.6M638.45 529.71h2.6M448.15 534.24h-2.6M638.45 534.24h2.6M448.15 543.29h-2.6M638.45 543.29h2.6M448.15 547.82h-2.6M638.45 547.82h2.6"/>
<text transform="translate(448.15 571.65) scale(0.97 1)" text-anchor="middle" style="font-size:10.0px">900</text>
<text transform="translate(486.21 571.65) scale(0.97 1)" text-anchor="middle" style="font-size:10.0px">920</text>
<text transform="translate(524.27 571.65) scale(0.97 1)" text-anchor="middle" style="font-size:10.0px">940</text>
<text transform="translate(562.33 571.65) scale(0.97 1)" text-anchor="middle" style="font-size:10.0px">960</text>
<text transform="translate(600.39 571.65) scale(0.97 1)" text-anchor="middle" style="font-size:10.0px">980</text>
<text transform="translate(638.45 571.65) scale(0.97 1)" text-anchor="middle" style="font-size:10.0px">1000</text>
<text transform="translate(436.35 460.65) scale(0.97 1)" text-anchor="end" style="font-size:10.0px">63.0</text>
<text transform="translate(436.35 474.24) scale(0.97 1)" text-anchor="end" style="font-size:10.0px">60.0</text>
<text transform="translate(436.35 487.82) scale(0.97 1)" text-anchor="end" style="font-size:10.0px">57.0</text>
<text transform="translate(436.35 501.41) scale(0.97 1)" text-anchor="end" style="font-size:10.0px">54.0</text>
<text transform="translate(436.35 514.99) scale(0.97 1)" text-anchor="end" style="font-size:10.0px">51.0</text>
<text transform="translate(436.35 528.58) scale(0.97 1)" text-anchor="end" style="font-size:10.0px">48.0</text>
<text transform="translate(436.35 542.16) scale(0.97 1)" text-anchor="end" style="font-size:10.0px">45.0</text>
<text transform="translate(436.35 555.75) scale(0.97 1)" text-anchor="end" style="font-size:10.0px">42.0</text>
<text transform="translate(409.55 504.8) rotate(-90) scale(0.97 1)" text-anchor="middle" style="font-size:10.3px">kg/m^2</text>
<clipPath id="c7"><rect x="448.15" y="457.25" width="190.3" height="95.1"/></clipPath>
<path class="ln" clip-path="url(#c7)" d="M448.1 479.38L450 477.5L451.91 490L453.81 500L455.71 506L457.61 480.62L459.52 479.38L461.42 471L463.32 470.62L465.23 490.62L467.13 471.25L469.03 480L470.94 488.75L472.84 502.5L474.74 479.38L476.64 478.12L478.55 484.38L480.45 483.12L482.35 470L484.26 466.25L486.16 467.5L488.06 479.38L489.97 467.25L491.87 469.38L493.77 499L495.67 496.88L497.58 474.38L499.48 476.25L501.38 482.25L503.29 472.5L505.19 476.88L507.09 472.88L509 486.5L510.9 485.25L512.8 491.25L514.7 503.75L516.61 509L518.51 495.62L520.41 516.5L522.32 507.5L524.22 497.25L526.12 498.12L528.03 474.75L529.93 506.25L531.83 489.38L533.74 523.5L535.64 509.38L537.54 515L539.44 470L541.35 470.62L543.25 493.12L545.15 461.25L547.06 505L548.96 550.62L550.86 497.5L552.76 478.75L554.67 470L556.57 466.88L558.47 463.75L560.38 461L562.28 462.5L564.18 481.88L566.09 485.62L567.99 486.25L569.89 481.5L571.79 483.5L573.7 495L575.6 497.25L577.5 468.12L579.41 508.5L581.31 499.75L583.21 499.38L585.12 501.88L587.02 469.75L588.92 475L590.82 503.5L592.73 497.5L594.63 463.5L596.53 474.75L598.44 474L600.34 478.12L602.24 532.5L604.15 488.12L606.05 494.75L607.95 496L609.86 486.5L611.76 510.25L613.66 501.88L615.56 521.5L617.47 473.75L619.37 467.5L621.27 489.75L623.18 472.5L625.08 503.75L626.98 501.88L628.88 499.38L630.79 480.62L632.69 491.5L634.59 485L636.5 484.38"/>
</g>
<g>
<text transform="translate(292.35 581.3) scale(0.97 1)" text-anchor="middle" style="font-size:10.0px">Layer 9</text>
<rect class="frame" x="197.2" y="588.5" width="190.3" height="95.1"/>
<path class="tk" d="M197.2 683.6v5.2M197.2 588.5v-5.2M235.26 683.6v5.2M235.26 588.5v-5.2M273.32 683.6v5.2M273.32 588.5v-5.2M311.38 683.6v5.2M311.38 588.5v-5.2M349.44 683.6v5.2M349.44 588.5v-5.2M387.5 683.6v5.2M387.5 588.5v-5.2M197.2 588.5h-5.1M387.5 588.5h5.1M197.2 602.09h-5.1M387.5 602.09h5.1M197.2 615.67h-5.1M387.5 615.67h5.1M197.2 629.26h-5.1M387.5 629.26h5.1M197.2 642.84h-5.1M387.5 642.84h5.1M197.2 656.43h-5.1M387.5 656.43h5.1M197.2 670.01h-5.1M387.5 670.01h5.1M197.2 683.6h-5.1M387.5 683.6h5.1"/>
<path class="mtk" d="M197.2 591.22h-2.6M387.5 591.22h2.6M197.2 593.93h-2.6M387.5 593.93h2.6M197.2 596.65h-2.6M387.5 596.65h2.6M197.2 599.37h-2.6M387.5 599.37h2.6M197.2 604.8h-2.6M387.5 604.8h2.6M197.2 607.52h-2.6M387.5 607.52h2.6M197.2 610.24h-2.6M387.5 610.24h2.6M197.2 612.95h-2.6M387.5 612.95h2.6M197.2 618.39h-2.6M387.5 618.39h2.6M197.2 621.11h-2.6M387.5 621.11h2.6M197.2 623.82h-2.6M387.5 623.82h2.6M197.2 626.54h-2.6M387.5 626.54h2.6M197.2 631.97h-2.6M387.5 631.97h2.6M197.2 634.69h-2.6M387.5 634.69h2.6M197.2 637.41h-2.6M387.5 637.41h2.6M197.2 640.13h-2.6M387.5 640.13h2.6M197.2 645.56h-2.6M387.5 645.56h2.6M197.2 648.28h-2.6M387.5 648.28h2.6M197.2 650.99h-2.6M387.5 650.99h2.6M197.2 653.71h-2.6M387.5 653.71h2.6M197.2 659.15h-2.6M387.5 659.15h2.6M197.2 661.86h-2.6M387.5 661.86h2.6M197.2 664.58h-2.6M387.5 664.58h2.6M197.2 667.3h-2.6M387.5 667.3h2.6M197.2 672.73h-2.6M387.5 672.73h2.6M197.2 675.45h-2.6M387.5 675.45h2.6M197.2 678.17h-2.6M387.5 678.17h2.6M197.2 680.88h-2.6M387.5 680.88h2.6"/>
<text transform="translate(197.2 702.9) scale(0.97 1)" text-anchor="middle" style="font-size:10.0px">900</text>
<text transform="translate(235.26 702.9) scale(0.97 1)" text-anchor="middle" style="font-size:10.0px">920</text>
<text transform="translate(273.32 702.9) scale(0.97 1)" text-anchor="middle" style="font-size:10.0px">940</text>
<text transform="translate(311.38 702.9) scale(0.97 1)" text-anchor="middle" style="font-size:10.0px">960</text>
<text transform="translate(349.44 702.9) scale(0.97 1)" text-anchor="middle" style="font-size:10.0px">980</text>
<text transform="translate(387.5 702.9) scale(0.97 1)" text-anchor="middle" style="font-size:10.0px">1000</text>
<text transform="translate(185.4 591.9) scale(0.97 1)" text-anchor="end" style="font-size:10.0px">75.0</text>
<text transform="translate(185.4 605.49) scale(0.97 1)" text-anchor="end" style="font-size:10.0px">70.0</text>
<text transform="translate(185.4 619.07) scale(0.97 1)" text-anchor="end" style="font-size:10.0px">65.0</text>
<text transform="translate(185.4 632.66) scale(0.97 1)" text-anchor="end" style="font-size:10.0px">60.0</text>
<text transform="translate(185.4 646.24) scale(0.97 1)" text-anchor="end" style="font-size:10.0px">55.0</text>
<text transform="translate(185.4 659.83) scale(0.97 1)" text-anchor="end" style="font-size:10.0px">50.0</text>
<text transform="translate(185.4 673.41) scale(0.97 1)" text-anchor="end" style="font-size:10.0px">45.0</text>
<text transform="translate(185.4 687) scale(0.97 1)" text-anchor="end" style="font-size:10.0px">40.0</text>
<text transform="translate(158.6 636.05) rotate(-90) scale(0.97 1)" text-anchor="middle" style="font-size:10.3px">kg/m^2</text>
<clipPath id="c8"><rect x="197.2" y="588.5" width="190.3" height="95.1"/></clipPath>
<path class="ln" clip-path="url(#c8)" d="M197.15 626.62L199.05 623.5L200.96 636L202.86 639.75L204.76 646L206.66 627.25L208.57 627L210.47 602L212.37 600.75L214.28 636.62L216.18 609.75L218.08 615.38L219.99 631L221.89 638.5L223.79 625.38L225.69 622.88L227.6 624.12L229.5 619.12L231.4 610.75L233.31 613.25L235.21 596.62L237.11 614.75L239.02 610.38L240.92 611.62L242.82 635.38L244.72 637.25L246.63 623.5L248.53 621L250.43 608.5L252.34 597.5L254.24 610.38L256.14 607.5L258.05 629.75L259.95 634.75L261.85 633.5L263.75 645L265.66 637.25L267.56 632.5L269.46 642.25L271.37 648.5L273.27 639.75L275.17 635.38L277.08 623.5L278.98 645.38L280.88 630L282.78 647.25L284.69 642.88L286.59 653.25L288.49 610.75L290.4 617.88L292.3 630.38L294.2 597.88L296.11 629.75L298.01 671.62L299.91 642.25L301.81 626.62L303.72 622.88L305.62 598.5L307.52 603.5L309.43 590.38L311.33 589.5L313.23 624.75L315.14 625.75L317.04 619.5L318.94 622.25L320.84 627.25L322.75 636.25L324.65 634.12L326.55 610.38L328.46 642.5L330.36 638.5L332.26 637.25L334.17 639.5L336.07 619.75L337.97 609.12L339.88 636.62L341.78 638.25L343.68 607.88L345.58 612.88L347.49 617.25L349.39 620.38L351.29 663.5L353.2 624.75L355.1 636L357 634.75L358.9 630.38L360.81 635.38L362.71 640.38L364.61 647L366.52 607.88L368.42 613.5L370.32 618.5L372.23 623.5L374.13 631.62L376.03 639.5L377.93 634.12L379.84 613.5L381.74 624.12L383.64 615.38L385.55 615.38"/>
</g>
<g>
<text transform="translate(543.3 581.3) scale(0.97 1)" text-anchor="middle" style="font-size:10.0px">Layer 10</text>
<rect class="frame" x="448.15" y="588.5" width="190.3" height="95.1"/>
<path class="tk" d="M448.15 683.6v5.2M448.15 588.5v-5.2M486.21 683.6v5.2M486.21 588.5v-5.2M524.27 683.6v5.2M524.27 588.5v-5.2M562.33 683.6v5.2M562.33 588.5v-5.2M600.39 683.6v5.2M600.39 588.5v-5.2M638.45 683.6v5.2M638.45 588.5v-5.2M448.15 588.5h-5.1M638.45 588.5h5.1M448.15 607.52h-5.1M638.45 607.52h5.1M448.15 626.54h-5.1M638.45 626.54h5.1M448.15 645.56h-5.1M638.45 645.56h5.1M448.15 664.58h-5.1M638.45 664.58h5.1M448.15 683.6h-5.1M638.45 683.6h5.1"/>
<path class="mtk" d="M448.15 592.3h-2.6M638.45 592.3h2.6M448.15 596.11h-2.6M638.45 596.11h2.6M448.15 599.91h-2.6M638.45 599.91h2.6M448.15 603.72h-2.6M638.45 603.72h2.6M448.15 611.32h-2.6M638.45 611.32h2.6M448.15 615.13h-2.6M638.45 615.13h2.6M448.15 618.93h-2.6M638.45 618.93h2.6M448.15 622.74h-2.6M638.45 622.74h2.6M448.15 630.34h-2.6M638.45 630.34h2.6M448.15 634.15h-2.6M638.45 634.15h2.6M448.15 637.95h-2.6M638.45 637.95h2.6M448.15 641.76h-2.6M638.45 641.76h2.6M448.15 649.36h-2.6M638.45 649.36h2.6M448.15 653.17h-2.6M638.45 653.17h2.6M448.15 656.97h-2.6M638.45 656.97h2.6M448.15 660.78h-2.6M638.45 660.78h2.6M448.15 668.38h-2.6M638.45 668.38h2.6M448.15 672.19h-2.6M638.45 672.19h2.6M448.15 675.99h-2.6M638.45 675.99h2.6M448.15 679.8h-2.6M638.45 679.8h2.6"/>
<text transform="translate(448.15 702.9) scale(0.97 1)" text-anchor="middle" style="font-size:10.0px">900</text>
<text transform="translate(486.21 702.9) scale(0.97 1)" text-anchor="middle" style="font-size:10.0px">920</text>
<text transform="translate(524.27 702.9) scale(0.97 1)" text-anchor="middle" style="font-size:10.0px">940</text>
<text transform="translate(562.33 702.9) scale(0.97 1)" text-anchor="middle" style="font-size:10.0px">960</text>
<text transform="translate(600.39 702.9) scale(0.97 1)" text-anchor="middle" style="font-size:10.0px">980</text>
<text transform="translate(638.45 702.9) scale(0.97 1)" text-anchor="middle" style="font-size:10.0px">1000</text>
<text transform="translate(436.35 591.9) scale(0.97 1)" text-anchor="end" style="font-size:10.0px">80</text>
<text transform="translate(436.35 610.92) scale(0.97 1)" text-anchor="end" style="font-size:10.0px">70</text>
<text transform="translate(436.35 629.94) scale(0.97 1)" text-anchor="end" style="font-size:10.0px">60</text>
<text transform="translate(436.35 648.96) scale(0.97 1)" text-anchor="end" style="font-size:10.0px">50</text>
<text transform="translate(436.35 667.98) scale(0.97 1)" text-anchor="end" style="font-size:10.0px">40</text>
<text transform="translate(436.35 687) scale(0.97 1)" text-anchor="end" style="font-size:10.0px">30</text>
<text transform="translate(417.55 636.05) rotate(-90) scale(0.97 1)" text-anchor="middle" style="font-size:10.3px">kg/m^2</text>
<clipPath id="c9"><rect x="448.15" y="588.5" width="190.3" height="95.1"/></clipPath>
<path class="ln" clip-path="url(#c9)" d="M448.1 634.12L450 630.38L451.91 642.88L453.81 643.5L455.71 658.25L457.61 637.25L459.52 632.88L461.42 617.25L463.32 616L465.23 648.25L467.13 626L469.03 625.75L470.94 637.25L472.84 647L474.74 636L476.64 632.88L478.55 630.38L480.45 626.62L482.35 624.12L484.26 624.12L486.16 615L488.06 625.38L489.97 624.12L491.87 616L493.77 636.62L495.67 640.38L497.58 632.88L499.48 631.62L501.38 623.5L503.29 610.38L505.19 622.25L507.09 611.62L509 634.12L510.9 644.5L512.8 637.88L514.7 654.75L516.61 642.25L518.51 639.5L520.41 644.12L522.32 654.75L524.22 649.12L526.12 643.5L528.03 634.5L529.93 653.5L531.83 638.5L533.74 651L535.64 651.62L537.54 668.75L539.44 630.75L541.35 630.38L543.25 636L545.15 616.62L547.06 639.75L548.96 670.38L550.86 651L552.76 632.25L554.67 632.88L556.57 617.88L558.47 616L560.38 607.25L562.28 600.38L564.18 634.12L566.09 632.5L567.99 630.75L569.89 630L571.79 629.12L573.7 641L575.6 635.38L577.5 626.25L579.41 648.25L581.31 646.62L583.21 640.75L585.12 644.12L587.02 633.5L588.92 623.5L590.82 644.75L592.73 643.25L594.63 629.75L596.53 625.38L598.44 626.62L600.34 626.25L602.24 666L604.15 637.25L606.05 645.38L607.95 639.75L609.86 633.25L611.76 634.75L613.66 643.5L615.56 651.25L617.47 626L619.37 623.5L621.27 629.12L623.18 636L625.08 629.5L626.98 643.5L628.88 637.25L630.79 625.75L632.69 629.12L634.59 631.62L636.5 628.5"/>
</g>
<path d="M243.9 742H340.4" stroke="#a0a0ff" stroke-width="1.4" stroke-dasharray="12.2 11.4" fill="none"/>
<path d="M243.9 778H340.4" stroke="#ffa0a0" stroke-width="1.4" fill="none"/>
<text transform="translate(343 745.4) scale(0.97 1)" text-anchor="start" style="font-size:10.0px">No Obs</text>
<text transform="translate(343 781.2) scale(0.97 1)" text-anchor="start" style="font-size:10.0px">b.e21.B1850.f19_g17.CMIP6-piControl-2deg.002</text>
</svg></body></html>
